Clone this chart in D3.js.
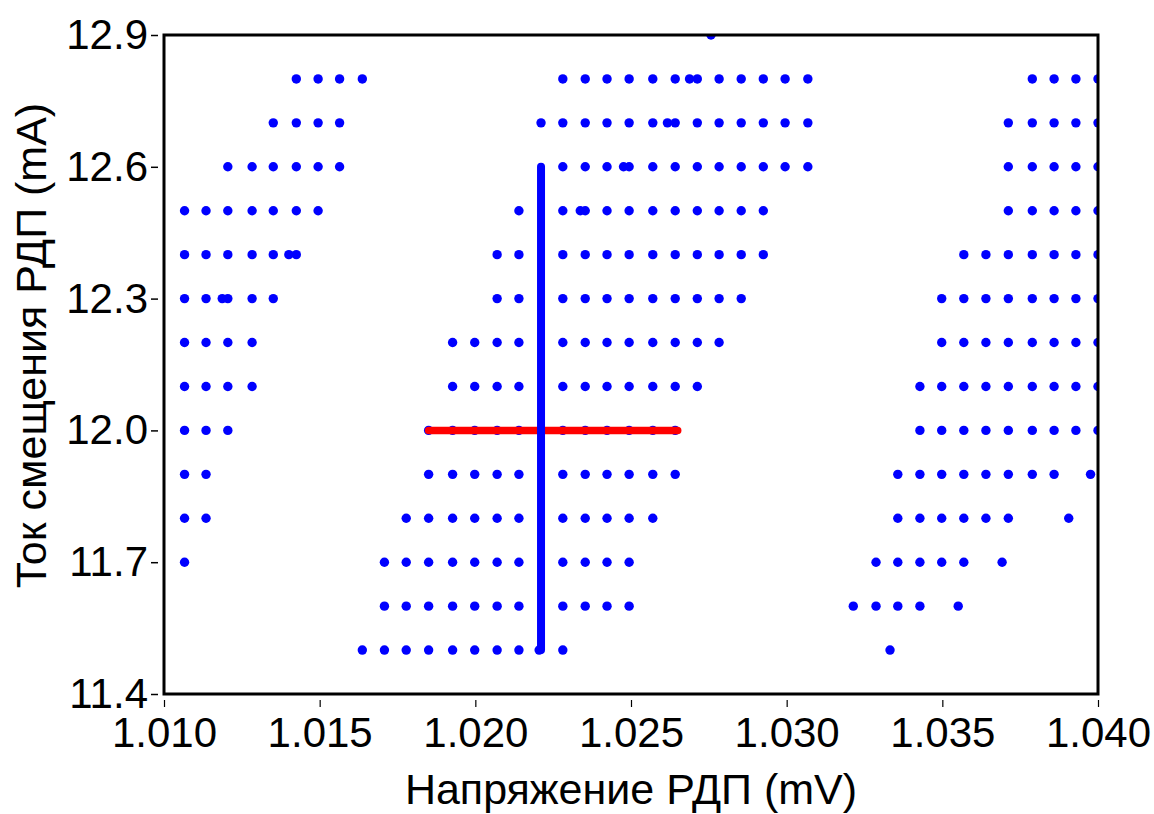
<!DOCTYPE html>
<html>
<head>
<meta charset="utf-8">
<script src="https://cdn.jsdelivr.net/npm/d3@7"></script>
<style>
  html, body { margin: 0; padding: 0; background: #fff; }
  svg { display: block; }
  text { font-family: "Liberation Sans", Arial, sans-serif; fill: #000; }
</style>
</head>
<body>
<svg id="chart" width="1154" height="814"></svg>
<script>
// ---- data ----
const xTicks = [1.010, 1.015, 1.020, 1.025, 1.030, 1.035, 1.040];
const yTicks = [11.4, 11.7, 12.0, 12.3, 12.6, 12.9];
const xLabel = "Напряжение РДП (mV)";
const yLabel = "Ток смещения РДП (mA)";

// bias current levels (mA) and measured voltages (mV) at each level
const currents = [12.9, 12.8, 12.7, 12.6, 12.5, 12.4, 12.3, 12.2, 12.1, 12.0, 11.9, 11.8, 11.7, 11.6, 11.5];
const v129 = [1.02757];
const v128 = [1.01425, 1.01495, 1.01564, 1.01637, 1.02281, 1.02353, 1.02423, 1.02494, 1.02570, 1.02642, 1.02688, 1.02713, 1.02783, 1.02854, 1.02925, 1.02995, 1.03068, 1.03789, 1.03859, 1.03929, 1.04000];
const v127 = [1.01351, 1.01425, 1.01495, 1.01564, 1.02211, 1.02281, 1.02353, 1.02423, 1.02494, 1.02570, 1.02617, 1.02642, 1.02713, 1.02783, 1.02854, 1.02925, 1.02995, 1.03068, 1.03712, 1.03789, 1.03859, 1.03929, 1.04000];
const v126 = [1.01205, 1.01283, 1.01351, 1.01425, 1.01495, 1.01564, 1.02281, 1.02353, 1.02423, 1.02476, 1.02494, 1.02570, 1.02642, 1.02713, 1.02783, 1.02854, 1.02925, 1.02995, 1.03068, 1.03712, 1.03789, 1.03859, 1.03929, 1.04000];
const v125 = [1.01066, 1.01135, 1.01205, 1.01283, 1.01351, 1.01425, 1.01495, 1.02140, 1.02281, 1.02337, 1.02353, 1.02423, 1.02494, 1.02570, 1.02642, 1.02713, 1.02783, 1.02854, 1.02925, 1.03712, 1.03789, 1.03859, 1.03929, 1.04000];
const v124 = [1.01066, 1.01135, 1.01205, 1.01283, 1.01351, 1.01401, 1.01425, 1.02070, 1.02140, 1.02281, 1.02353, 1.02423, 1.02494, 1.02570, 1.02642, 1.02713, 1.02783, 1.02854, 1.02925, 1.03569, 1.03640, 1.03712, 1.03789, 1.03859, 1.03929, 1.04000];
const v123 = [1.01066, 1.01135, 1.01187, 1.01205, 1.01283, 1.01351, 1.02070, 1.02140, 1.02281, 1.02353, 1.02423, 1.02494, 1.02570, 1.02642, 1.02713, 1.02783, 1.02854, 1.03498, 1.03569, 1.03640, 1.03712, 1.03789, 1.03859, 1.03929, 1.04000];
const v122 = [1.01066, 1.01135, 1.01205, 1.01283, 1.01927, 1.01998, 1.02070, 1.02140, 1.02281, 1.02353, 1.02423, 1.02494, 1.02570, 1.02642, 1.02713, 1.02783, 1.03498, 1.03569, 1.03640, 1.03712, 1.03789, 1.03859, 1.03929, 1.04000];
const v121 = [1.01066, 1.01135, 1.01205, 1.01283, 1.01927, 1.01998, 1.02070, 1.02140, 1.02281, 1.02353, 1.02423, 1.02494, 1.02570, 1.02642, 1.02713, 1.03428, 1.03498, 1.03569, 1.03640, 1.03712, 1.03789, 1.03859, 1.03929, 1.04000];
const v120 = [1.01066, 1.01135, 1.01205, 1.01850, 1.01927, 1.01998, 1.02070, 1.02140, 1.02281, 1.02353, 1.02423, 1.02494, 1.02570, 1.02642, 1.03428, 1.03498, 1.03569, 1.03640, 1.03712, 1.03789, 1.03859, 1.03929, 1.04000];
const v119 = [1.01066, 1.01135, 1.01850, 1.01927, 1.01998, 1.02070, 1.02140, 1.02281, 1.02353, 1.02423, 1.02494, 1.02570, 1.02642, 1.03357, 1.03428, 1.03498, 1.03569, 1.03640, 1.03712, 1.03789, 1.03859, 1.03976];
const v118 = [1.01066, 1.01135, 1.01778, 1.01850, 1.01927, 1.01998, 1.02070, 1.02140, 1.02281, 1.02353, 1.02423, 1.02494, 1.02570, 1.03357, 1.03428, 1.03498, 1.03569, 1.03640, 1.03712, 1.03906];
const v117 = [1.01066, 1.01708, 1.01778, 1.01850, 1.01927, 1.01998, 1.02070, 1.02140, 1.02281, 1.02353, 1.02423, 1.02494, 1.03287, 1.03357, 1.03428, 1.03498, 1.03569, 1.03692];
const v116 = [1.01708, 1.01778, 1.01850, 1.01927, 1.01998, 1.02070, 1.02140, 1.02281, 1.02353, 1.02423, 1.02494, 1.03214, 1.03287, 1.03357, 1.03428, 1.03551];
const v115 = [1.01637, 1.01708, 1.01778, 1.01850, 1.01927, 1.01998, 1.02070, 1.02140, 1.02205, 1.02281, 1.03332];
const voltageRows = [v129, v128, v127, v126, v125, v124, v123, v122, v121, v120, v119, v118, v117, v116, v115];

// red horizontal segment (voltage range at fixed current) and blue vertical segment (current range at fixed voltage)
const redVoltage = [1.0185, 1.0265];
const redCurrent = 12.0;
const blueVoltage = 1.02211;
const blueCurrent = [11.5, 12.6];

// ---- layout ----
const L = 164, T = 35, R = 1098, B = 694;
const svg = d3.select("#chart");
const x = d3.scaleLinear().domain([1.010, 1.040]).range([L, R]);
const y = d3.scaleLinear().domain([11.4, 12.9]).range([B, T]);

svg.append("defs").append("clipPath").attr("id", "plotclip")
  .append("rect").attr("x", L).attr("y", T).attr("width", R - L).attr("height", B - T);

const points = [];
currents.forEach((c, i) => voltageRows[i].forEach(v => points.push({v, c})));

const plot = svg.append("g").attr("clip-path", "url(#plotclip)");
plot.selectAll("circle").data(points).join("circle")
  .attr("cx", d => x(d.v)).attr("cy", d => y(d.c)).attr("r", 4.7)
  .attr("fill", "#0000ff");

const line = d3.line().x(d => x(d[0])).y(d => y(d[1]));
plot.append("path")
  .attr("d", line(redVoltage.map(v => [v, redCurrent])))
  .attr("stroke", "#ff0000").attr("stroke-width", 7.5).attr("stroke-linecap", "round").attr("fill", "none");
plot.append("path")
  .attr("d", line(blueCurrent.map(c => [blueVoltage, c])))
  .attr("stroke", "#0000ff").attr("stroke-width", 8).attr("stroke-linecap", "round").attr("fill", "none");

// frame
svg.append("rect").attr("x", L).attr("y", T).attr("width", R - L).attr("height", B - T)
  .attr("fill", "none").attr("stroke", "#000").attr("stroke-width", 3);

// axes
const xAxis = d3.axisBottom(x).tickValues(xTicks).tickFormat(d3.format(".3f"))
  .tickSizeInner(7).tickSizeOuter(0).tickPadding(10);
const gx = svg.append("g").attr("transform", `translate(0,${B + 6})`).call(xAxis);
gx.select(".domain").remove();
gx.selectAll(".tick line").attr("stroke", "#000").attr("stroke-width", 1.2);
gx.selectAll(".tick text").attr("font-size", 42).attr("font-family", "Liberation Sans, Arial, sans-serif").attr("fill", "#000");

const yAxis = d3.axisLeft(y).tickValues(yTicks).tickFormat(d3.format(".1f"))
  .tickSizeInner(7).tickSizeOuter(0).tickPadding(3);
const gy = svg.append("g").attr("transform", `translate(${L - 6},0)`).call(yAxis);
gy.select(".domain").remove();
gy.selectAll(".tick line").attr("stroke", "#000").attr("stroke-width", 1.5);
gy.selectAll(".tick text").attr("font-size", 42).attr("font-family", "Liberation Sans, Arial, sans-serif").attr("fill", "#000");

// axis titles
svg.append("text").attr("x", (L + R) / 2).attr("y", 804).attr("text-anchor", "middle")
  .attr("font-size", 43).text(xLabel);
svg.append("text").attr("transform", `translate(46,${(T + B) / 2 - 19}) rotate(-90)`)
  .attr("text-anchor", "middle").attr("font-size", 43).text(yLabel);
</script>
</body>
</html>
